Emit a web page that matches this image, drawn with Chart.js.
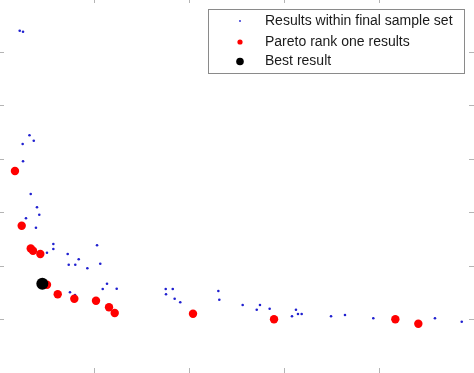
<!DOCTYPE html>
<html>
<head>
<meta charset="utf-8">
<script src="https://cdn.jsdelivr.net/npm/chart.js@4"></script>
<style>
  html, body { margin: 0; padding: 0; background: #fff; overflow: hidden; }
  #wrap { position: absolute; left: -1px; top: -2px; width: 475px; height: 375px; }
</style>
</head>
<body>
<div id="wrap"><canvas id="paretoChart" width="475" height="375"></canvas></div>
<script>
// axis ticks (no labels shown in the figure)
const xTicks = [1, 2, 3, 4];
const yTicks = [1, 2, 3, 4, 5, 6];

// all results within final sample set
const sampleX = [0.218, 0.253, 0.321, 0.366, 0.249, 0.253, 0.334, 0.400, 0.424, 0.284,
  0.389, 0.572, 0.572, 0.505, 1.032, 0.723, 0.839, 0.734, 0.803, 1.066,
  0.930, 1.137, 1.092, 1.239, 0.747, 0.800, 1.755, 1.829, 1.758, 1.849,
  1.908, 2.309, 2.319, 2.565, 2.747, 2.713, 2.849, 3.084, 3.126, 3.147,
  3.186, 3.495, 3.642, 3.940, 4.589, 4.871];
const sampleY = [6.39, 6.37, 4.437, 4.336, 4.275, 3.952, 3.341, 3.093, 2.955, 2.888,
  2.712, 2.408, 2.315, 2.246, 2.386, 2.221, 2.122, 2.022, 2.022, 2.040,
  1.954, 1.667, 1.568, 1.574, 1.506, 1.456, 1.568, 1.568, 1.469, 1.387,
  1.320, 1.531, 1.368, 1.269, 1.269, 1.182, 1.200, 1.058, 1.182, 1.101,
  1.101, 1.058, 1.083, 1.021, 1.021, 0.958];

// pareto rank one results
const paretoX = [0.168, 0.239, 0.334, 0.358, 0.435, 0.505, 0.618, 0.793, 1.021, 1.158,
  1.218, 2.042, 2.895, 4.172, 4.414];
const paretoY = [3.771, 2.748, 2.324, 2.283, 2.221, 1.648, 1.469, 1.387, 1.350, 1.226,
  1.120, 1.107, 1.002, 1.002, 0.920];

// best result
const bestX = [0.456];
const bestY = [1.667];

const toPoints = (xs, ys) => xs.map((x, i) => ({ x: x, y: ys[i] }));

// inward tick marks on all four sides, matlab style
const innerTicks = {
  id: "innerTicks",
  afterDraw(chart) {
    const ctx = chart.ctx;
    const area = chart.chartArea;
    const sx = chart.scales.x;
    const sy = chart.scales.y;
    const len = 5;
    ctx.save();
    ctx.strokeStyle = "#b4b4b4";
    ctx.lineWidth = 1;
    ctx.beginPath();
    xTicks.forEach((v) => {
      const px = Math.round(sx.getPixelForValue(v)) + 0.5;
      ctx.moveTo(px, area.bottom);
      ctx.lineTo(px, area.bottom - len);
      ctx.moveTo(px, area.top);
      ctx.lineTo(px, area.top + len);
    });
    yTicks.forEach((v) => {
      const py = Math.round(sy.getPixelForValue(v)) + 0.5;
      ctx.moveTo(area.left, py);
      ctx.lineTo(area.left + len, py);
      ctx.moveTo(area.right, py);
      ctx.lineTo(area.right - len, py);
    });
    ctx.stroke();
    ctx.restore();
  },
};

// boxed legend in the top right corner
const boxLegend = {
  id: "boxLegend",
  afterDraw(chart) {
    const ctx = chart.ctx;
    const left = 209, top = 11, w = 256, h = 64;
    const rows = [23, 44, 63.5];
    const sizes = [0.9, 2.6, 3.8];
    ctx.save();
    ctx.fillStyle = "#fff";
    ctx.fillRect(left, top, w, h);
    ctx.strokeStyle = "#8a8a8a";
    ctx.lineWidth = 1;
    ctx.strokeRect(left + 0.5, top + 0.5, w, h);
    chart.data.datasets.forEach((ds, i) => {
      ctx.fillStyle = ds.backgroundColor;
      ctx.beginPath();
      ctx.arc(left + 32, rows[i], sizes[i], 0, Math.PI * 2);
      ctx.fill();
      ctx.fillStyle = "#1a1a1a";
      ctx.font = "14px 'Liberation Sans', Arial, sans-serif";
      ctx.textBaseline = "middle";
      ctx.fillText(ds.label, left + 57, rows[i]);
    });
    ctx.restore();
  },
};

new Chart(document.getElementById("paretoChart"), {
  type: "scatter",
  data: {
    datasets: [
      {
        label: "Results within final sample set",
        data: toPoints(sampleX, sampleY),
        backgroundColor: "#2020d0",
        pointRadius: 1.3,
        borderWidth: 0,
        order: 3,
      },
      {
        label: "Pareto rank one results",
        data: toPoints(paretoX, paretoY),
        backgroundColor: "#ff0000",
        pointRadius: 4.2,
        borderWidth: 0,
        order: 2,
      },
      {
        label: "Best result",
        data: toPoints(bestX, bestY),
        backgroundColor: "#000000",
        pointRadius: 6,
        borderWidth: 0,
        order: 1,
      },
    ],
  },
  options: {
    responsive: false,
    animation: false,
    layout: { padding: 0, autoPadding: false },
    scales: {
      x: { type: "linear", min: 0, max: 5, display: false },
      y: { type: "linear", min: 0, max: 7, display: false },
    },
    plugins: {
      legend: { display: false },
      tooltip: { enabled: false },
    },
  },
  plugins: [innerTicks, boxLegend],
});
</script>
</body>
</html>
